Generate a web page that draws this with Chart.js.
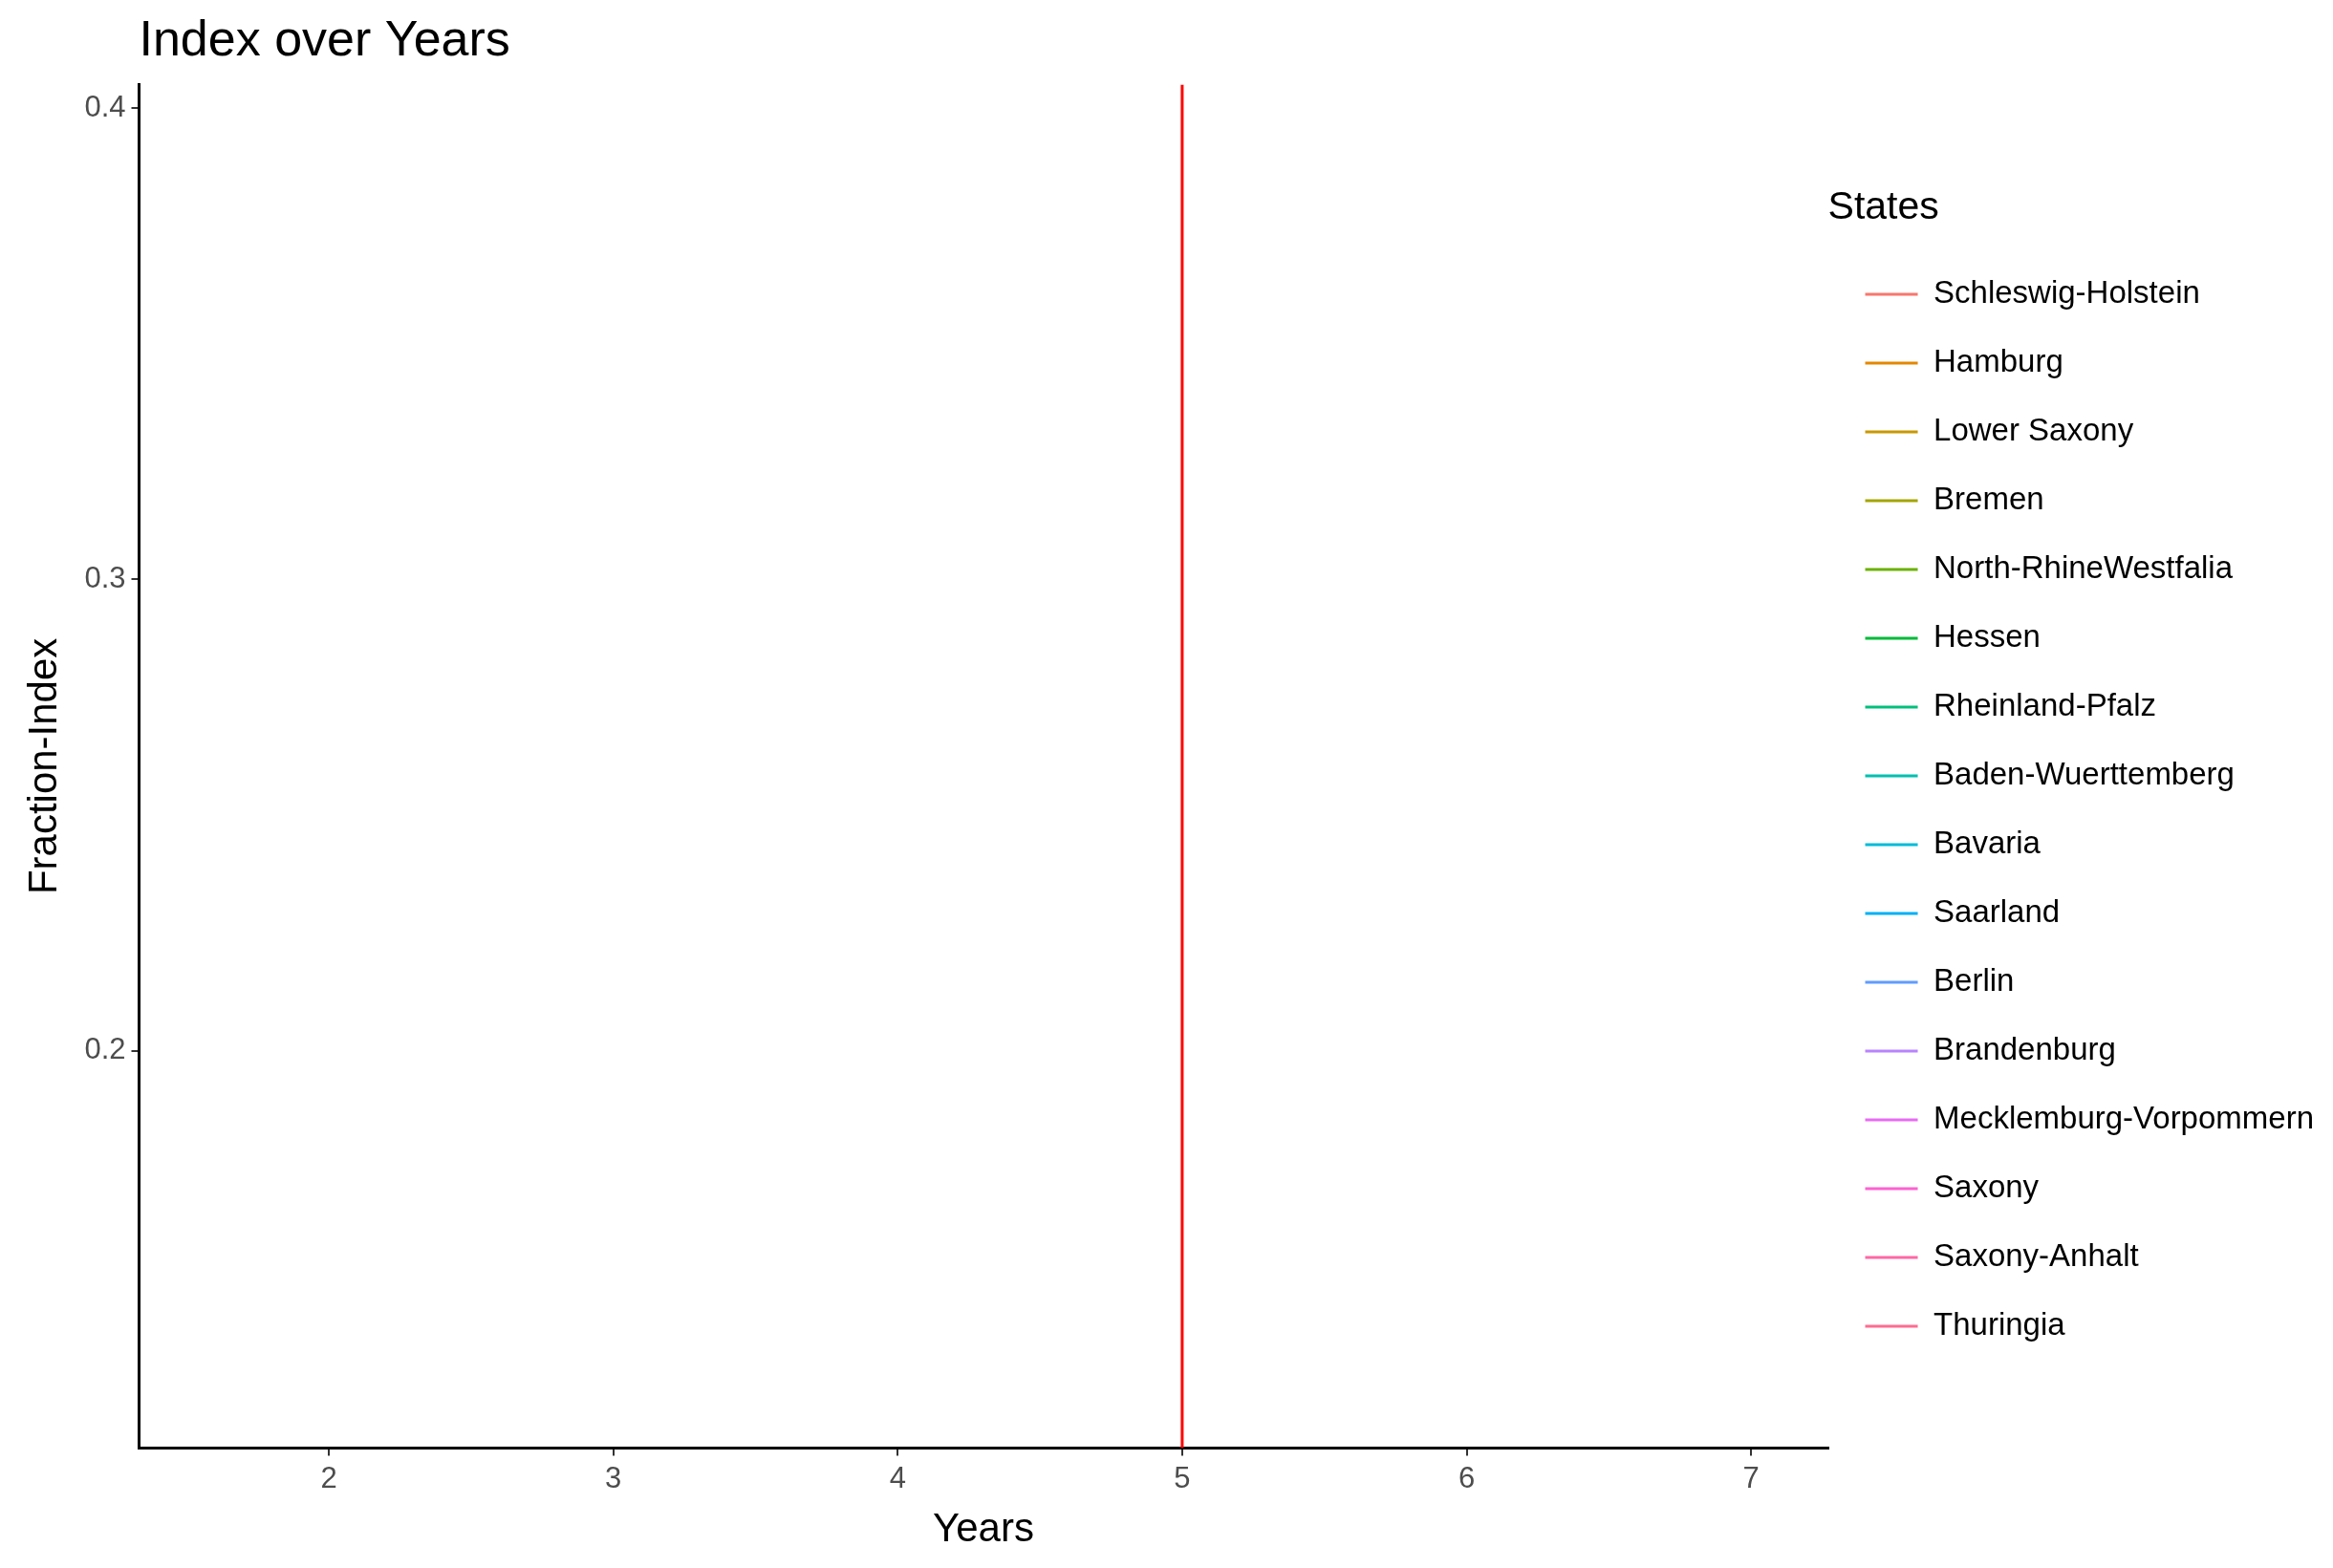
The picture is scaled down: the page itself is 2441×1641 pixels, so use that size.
<!DOCTYPE html>
<html>
<head>
<meta charset="utf-8">
<script src="https://cdn.jsdelivr.net/npm/chart.js@4/dist/chart.umd.min.js"></script>
<style>
  html,body{margin:0;padding:0;background:#fff;}
  #wrap{width:2441px;height:1641px;}
</style>
</head>
<body>
<div id="wrap"><canvas id="c" width="2441" height="1641"></canvas></div>
<script>
const states = ['Schleswig-Holstein','Hamburg','Lower Saxony','Bremen','North-RhineWestfalia','Hessen',
  'Rheinland-Pfalz','Baden-Wuerttemberg','Bavaria','Saarland','Berlin','Brandenburg',
  'Mecklemburg-Vorpommern','Saxony','Saxony-Anhalt','Thuringia'];
const stateColors = ['#F8766D','#E58700','#C99800','#A3A500','#6BB100','#00BA38','#00BF7D','#00C0AF',
  '#00BCD8','#00B0F6','#619CFF','#B983FF','#E76BF3','#FD61D1','#FF67A4','#FF6C91'];
const xTicks = [2,3,4,5,6,7];
const yTicks = [0.2,0.3,0.4];
const xRange = [1.333,7.27];
const yRange = [0.1157,0.405];
const markerYear = 5;

const datasets = states.map((s,i)=>({
  label:s, data:[], borderColor:stateColors[i], backgroundColor:stateColors[i], borderWidth:3, pointRadius:0
}));
datasets.push({
  label:'marker', data:[{x:markerYear,y:yRange[0]},{x:markerYear,y:yRange[1]}],
  borderColor:'#FF0000', borderWidth:3, pointRadius:0
});

const font = 'Liberation Sans, Arial, sans-serif';

// push the plot title in line with the y axis, as ggplot does
const titleShift = {
  id:'titleShift',
  afterLayout(chart){ const t = chart.titleBlock; if(t){ t.left = chart.chartArea.left; } }
};

new Chart(document.getElementById('c').getContext('2d'), {
  type:'line',
  data:{datasets},
  plugins:[titleShift],
  options:{
    responsive:false, animation:false,
    layout:{padding:{left:18,right:10,top:10,bottom:10}},
    plugins:{
      title:{display:true, text:'Index over Years', align:'start', color:'#000',
        font:{family:font,size:52,weight:'normal'}, padding:{top:2,bottom:14}},
      legend:{
        position:'right', align:'center',
        title:{display:true, text:'States', position:'start', color:'#000', font:{family:font,size:41}, padding:{top:0,bottom:6}},
        labels:{
          usePointStyle:true, pointStyle:'line', pointStyleWidth:55,
          color:'#000', font:{family:font,size:33}, padding:39,
          generateLabels:chart=>chart.data.datasets.filter(d=>d.label!=='marker').map((d,i)=>({
            text:d.label, strokeStyle:d.borderColor, fillStyle:d.borderColor, lineWidth:3,
            pointStyle:'line', datasetIndex:i, fontColor:'#000'
          }))
        }
      },
      tooltip:{enabled:false}
    },
    scales:{
      x:{type:'linear', min:xRange[0], max:xRange[1],
        afterBuildTicks:a=>{a.ticks=xTicks.map(v=>({value:v}));},
        grid:{drawOnChartArea:false, color:'#333', tickLength:8, lineWidth:2},
        border:{color:'#000', width:3},
        ticks:{color:'#4d4d4d', font:{family:font,size:31}, padding:6},
        title:{display:true, text:'Years', color:'#000', font:{family:font,size:42}, padding:{top:4}}},
      y:{type:'linear', min:yRange[0], max:yRange[1],
        afterBuildTicks:a=>{a.ticks=yTicks.map(v=>({value:v}));},
        grid:{drawOnChartArea:false, color:'#333', tickLength:8, lineWidth:2},
        border:{color:'#000', width:3},
        ticks:{color:'#4d4d4d', font:{family:font,size:31}, padding:6, callback:v=>v.toFixed(1)},
        title:{display:true, text:'Fraction-Index', color:'#000', font:{family:font,size:42}, padding:{bottom:10}}}
    }
  }
});
</script>
</body>
</html>
